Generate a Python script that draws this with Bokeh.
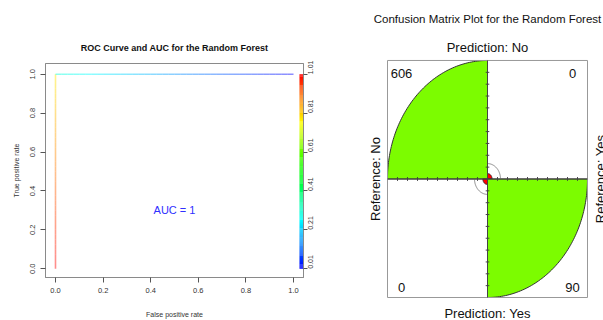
import colorsys
import numpy as np
from bokeh.plotting import figure
from bokeh.layouts import row
from bokeh.models import Range1d, LinearAxis, FixedTicker, Label
from bokeh.embed import file_html
from bokeh.resources import INLINE

# ---------------- data ----------------
roc_fpr = [0.0, 0.0, 0.0, 1.0]
roc_tpr = [0.0, 1.0, 1.0, 1.0]
roc_cutoff = [1.01, 0.78, 0.30, 0.01]
auc_value = 1
axis_ticks = [0.0, 0.2, 0.4, 0.6, 0.8, 1.0]
axis_tick_labels = ["0.0", "0.2", "0.4", "0.6", "0.8", "1.0"]
cutoff_ticks = [0.01, 0.21, 0.41, 0.61, 0.81, 1.01]
cutoff_tick_labels = ["0.01", "0.21", "0.41", "0.61", "0.81", "1.01"]

prediction_levels = ["No", "Yes"]   # top / bottom
reference_levels = ["No", "Yes"]    # left / right
cm_counts = [[606, 0], [0, 90]]     # rows: prediction, cols: reference
conf_ring_radius = 0.13

FONT = "Liberation Sans"

def cut_color(c):
    lo, hi = min(cutoff_ticks), max(cutoff_ticks)
    f = (hi - c) / (hi - lo)
    f = min(max(f, 0.0), 1.0)
    r, g, b = colorsys.hsv_to_rgb(f * 2.0 / 3.0, 1.0, 1.0)
    return "#%02x%02x%02x" % (int(r * 255), int(g * 255), int(b * 255))

# ---------------- ROC figure ----------------
p1 = figure(width=330, height=320, output_backend="svg", toolbar_location=None,
            x_range=Range1d(-0.042, 1.042), y_range=Range1d(-0.045, 1.055),
            min_border_left=45, min_border_right=27, min_border_top=63,
            min_border_bottom=38)
p1.title.text = "ROC Curve and AUC for the Random Forest"
p1.title.align = "center"
p1.title.text_font = FONT
p1.title.text_font_size = "9px"
p1.title.text_font_style = "bold"
p1.title.text_color = "#111111"
p1.title.standoff = 21
p1.grid.visible = False
p1.outline_line_color = "#8a8a8a"
p1.outline_line_width = 1

for ax in (p1.xaxis[0], p1.yaxis[0]):
    ax.ticker = FixedTicker(ticks=axis_ticks)
    ax.major_label_overrides = {t: l for t, l in zip(axis_ticks, axis_tick_labels)}
    ax.minor_tick_line_color = None
    ax.major_tick_in = 0
    ax.major_tick_out = 5
    ax.major_tick_line_color = "#555555"
    ax.axis_line_color = "#8a8a8a"
    ax.major_label_text_font = FONT
    ax.major_label_text_font_size = "7.5px"
    ax.major_label_text_color = "#333333"
    ax.major_label_standoff = 5
    ax.axis_label_text_font = FONT
    ax.axis_label_text_font_size = "7px"
    ax.axis_label_text_font_style = "normal"
    ax.axis_label_text_color = "#333333"
p1.xaxis[0].axis_label = "False positive rate"
p1.xaxis[0].axis_label_standoff = 15
p1.yaxis[0].axis_label = "True positive rate"
p1.yaxis[0].axis_label_standoff = 8
p1.yaxis[0].major_label_orientation = "vertical"

# cutoff colour bar with its own axis
lo, hi = min(cutoff_ticks), max(cutoff_ticks)
p1.extra_y_ranges = {"cut": Range1d(-0.045 * (hi - lo) + lo, 1.055 * (hi - lo) + lo)}
nbar = 200
cb_edges = np.linspace(lo, hi, nbar + 1)
p1.quad(left=1.025, right=1.042, bottom=cb_edges[:-1], top=cb_edges[1:],
        fill_color=[cut_color(0.5 * (a + b)) for a, b in zip(cb_edges[:-1], cb_edges[1:])],
        line_color=None, y_range_name="cut")
rax = LinearAxis(y_range_name="cut")
rax.ticker = FixedTicker(ticks=cutoff_ticks)
rax.major_label_overrides = {t: l for t, l in zip(cutoff_ticks, cutoff_tick_labels)}
rax.minor_tick_line_color = None
rax.major_tick_in = 0
rax.major_tick_out = 4
rax.major_tick_line_color = "#555555"
rax.axis_line_color = "#8a8a8a"
rax.major_label_text_font = FONT
rax.major_label_text_font_size = "7px"
rax.major_label_text_color = "#333333"
rax.major_label_standoff = 3
rax.major_label_orientation = np.pi / 2
p1.add_layout(rax, "right")

# colorized ROC curve
xs, ys, cols = [], [], []
nsub = 40
for i in range(len(roc_fpr) - 1):
    for k in range(nsub):
        t0, t1 = k / nsub, (k + 1) / nsub
        x0 = roc_fpr[i] + (roc_fpr[i + 1] - roc_fpr[i]) * t0
        x1 = roc_fpr[i] + (roc_fpr[i + 1] - roc_fpr[i]) * t1
        y0 = roc_tpr[i] + (roc_tpr[i + 1] - roc_tpr[i]) * t0
        y1 = roc_tpr[i] + (roc_tpr[i + 1] - roc_tpr[i]) * t1
        if x0 == x1 and y0 == y1:
            continue
        c = roc_cutoff[i] + (roc_cutoff[i + 1] - roc_cutoff[i]) * (t0 + t1) / 2
        xs.append([x0, x1])
        ys.append([y0, y1])
        cols.append(cut_color(c))
p1.multi_line(xs=xs, ys=ys, line_color=cols, line_width=1.6, line_alpha=0.45)

p1.add_layout(Label(x=0.5, y=0.30, text="AUC = %g" % auc_value, text_align="center",
                    text_baseline="middle", text_color="#3030ff", text_font=FONT,
                    text_font_size="11px"))

# ---------------- fourfold figure ----------------
# frame covers the whole canvas; the plot box spans -1..1 in both directions
p2 = figure(width=273, height=320, output_backend="svg", toolbar_location=None,
            x_range=Range1d(-1.57, 1.16), y_range=Range1d(-1.194, 1.506),
            min_border_left=0, min_border_right=0, min_border_top=0,
            min_border_bottom=0)
p2.title.visible = False
p2.axis.visible = False
p2.grid.visible = False
p2.outline_line_color = None

for p in (p1, p2):
    try:
        p.frame_align = False
    except Exception:
        pass

t = np.array(cm_counts, dtype=float) + 0.5
for _ in range(500):
    t = t / t.sum(axis=1, keepdims=True)
    t = t / t.sum(axis=0, keepdims=True)
radius = np.sqrt(t / t.max())

px, py, pcol = [], [], []
for i in range(2):
    for j in range(2):
        sx = -1 if j == 0 else 1
        sy = 1 if i == 0 else -1
        ang = np.linspace(0, np.pi / 2, 80)
        r = radius[i, j]
        px.append([0.0] + list(sx * r * np.cos(ang)) + [0.0])
        py.append([0.0] + list(sy * r * np.sin(ang)) + [0.0])
        pcol.append("#7CFC00" if i == j else "#ff0000")
p2.patches(px, py, fill_color=pcol, line_color="#333333", line_width=1)

# confidence rings in the off-diagonal quadrants
for i, j in [(0, 1), (1, 0)]:
    sx = -1 if j == 0 else 1
    sy = 1 if i == 0 else -1
    ang = np.linspace(0, np.pi / 2, 40)
    p2.line(sx * conf_ring_radius * np.cos(ang), sy * conf_ring_radius * np.sin(ang),
            line_color="#888888", line_width=1)

# plot box
rmax = float(radius.max())
p2.line([-rmax, rmax, rmax, -rmax, -rmax], [-rmax, -rmax, rmax, rmax, -rmax],
        line_color="#999999", line_width=1)

# central axes with ticks
p2.line([-rmax, rmax], [0, 0], line_color="#444444", line_width=1)
p2.line([0, 0], [-rmax, rmax], line_color="#444444", line_width=1)
tick_pos = [v for v in np.round(np.arange(-1.0, 1.0001, 0.1), 2) if 1e-9 < abs(v) < 1]
p2.segment(x0=tick_pos, y0=[-0.016] * len(tick_pos), x1=tick_pos, y1=[0.016] * len(tick_pos),
           line_color="#444444", line_width=1)
p2.segment(x0=[-0.018] * len(tick_pos), y0=tick_pos, x1=[0.018] * len(tick_pos), y1=tick_pos,
           line_color="#444444", line_width=1)

def lab(x, y, text, size, angle=0.0):
    p2.add_layout(Label(x=x, y=y, text=text, text_align="center", text_baseline="middle",
                        text_font=FONT, text_font_size=size, text_color="#111111",
                        angle=angle))

lab(0, 1.346, "Confusion Matrix Plot for the Random Forest", "11.5px")
lab(0, 1.11, "Prediction: " + prediction_levels[0], "13px")
lab(0, -1.135, "Prediction: " + prediction_levels[1], "13px")
lab(-1.12, 0, "Reference: " + reference_levels[0], "13px", np.pi / 2)
lab(1.13, 0, "Reference: " + reference_levels[1], "13px", np.pi / 2)
corner_x = {0: -0.86, 1: 0.85}
corner_y = {0: 0.89, 1: -0.916}
for i in range(2):
    for j in range(2):
        lab(corner_x[j], corner_y[i], str(cm_counts[i][j]), "13px")

layout = row(p1, p2)
open("out.html", "w").write(file_html(layout, INLINE))
